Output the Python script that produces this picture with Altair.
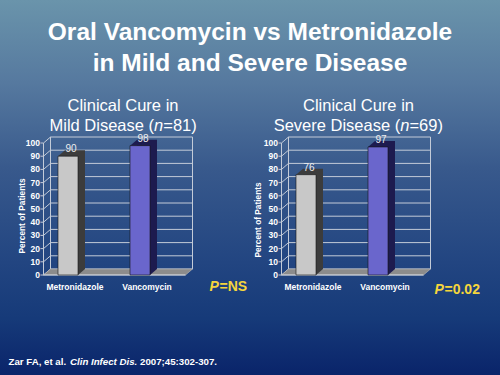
import altair as alt
import pandas as pd

# ---------------- data ----------------
categories = ["Metronidazole", "Vancomycin"]
mild_values = [90, 98]
severe_values = [76, 97]
y_ticks = [0, 10, 20, 30, 40, 50, 60, 70, 80, 90, 100]

title_lines = ["Oral Vancomycin vs Metronidazole", "in Mild and Severe Disease"]
mild_sub = ["Clinical Cure in", "Mild Disease (", "n", "=81)"]
severe_sub = ["Clinical Cure in", "Severe Disease (", "n", "=69)"]
y_title = "Percent of Patients"
p_mild = ["P", "=NS"]
p_severe = ["P", "=0.02"]
cite = ["Zar FA, et al.", "Clin Infect Dis.", "2007;45:302-307."]

# ---------------- styles ----------------
FONT = "Liberation Sans"
W, H = 500, 375
DX, DY = 7, -6
WALL_W = 142
GRID = "#c3cbd8"
YELLOW = "#f5d63c"
FRONT = ["#c8c8c8", "#6a66cc"]
SIDE = ["#3c3c3c", "#1d1b4f"]

yscale = alt.Scale(domain=[0, 100], range=[275, 143])
xscale = alt.Scale(domain=categories, range=[32, 176], paddingInner=0, paddingOuter=0)
one = pd.DataFrame({"k": [0]})
ticks_df = pd.DataFrame({"tick": y_ticks})


def txt(s, x, y, size, weight="normal", style="normal", align="left",
        color="white", angle=0, baseline="alphabetic"):
    return alt.Chart(one).mark_text(
        fontSize=size, fontWeight=weight, fontStyle=style,
        align=align, baseline=baseline, color=color, font=FONT, angle=angle
    ).encode(x=alt.value(x), y=alt.value(y), text=alt.value(s))


def cond(colors):
    return alt.condition(alt.datum.drug == categories[0],
                         alt.value(colors[0]), alt.value(colors[1]))


def panel(values, off, fl, label_x):
    df = pd.DataFrame({"drug": categories, "value": values})
    df["label"] = df["value"].astype(str)
    wl, wr = fl + DX, fl + WALL_W + DX
    fr = fl + WALL_W
    x = alt.X("drug:N", scale=xscale, axis=None)
    y = alt.Y("value:Q", scale=yscale, axis=None)
    yz = alt.Y("zero:Q", scale=yscale, axis=None)
    yt = alt.Y("tick:Q", scale=yscale, axis=None)
    base = alt.Chart(df).transform_calculate(zero="0")
    tk = alt.Chart(ticks_df)
    rng = alt.Chart(one).transform_calculate(lo="0", hi="100")
    ylo = alt.Y("lo:Q", scale=yscale, axis=None)

    grid = tk.mark_rule(color=GRID, strokeWidth=1, yOffset=DY, y2Offset=DY).encode(
        x=alt.value(wl), x2=alt.value(wr), y=yt, y2=alt.Y2("tick:Q"))
    diag = tk.mark_rule(color=GRID, strokeWidth=1, y2Offset=DY).encode(
        x=alt.value(fl), x2=alt.value(wl), y=yt, y2=alt.Y2("tick:Q"))
    fticks = tk.mark_rule(color=GRID, strokeWidth=1).encode(
        x=alt.value(fl - 3), x2=alt.value(fl), y=yt, y2=alt.Y2("tick:Q"))
    wall_l = rng.mark_rule(color=GRID, strokeWidth=1, yOffset=DY, y2Offset=DY).encode(
        x=alt.value(wl), y=ylo, y2=alt.Y2("hi:Q"))
    wall_r = rng.mark_rule(color=GRID, strokeWidth=1, yOffset=DY, y2Offset=DY).encode(
        x=alt.value(wr), y=ylo, y2=alt.Y2("hi:Q"))
    front_l = rng.mark_rule(color=GRID, strokeWidth=1).encode(
        x=alt.value(fl), y=ylo, y2=alt.Y2("hi:Q"))
    floor = rng.mark_point(
        shape=f"M0,0L{DX},{DY}L{WALL_W + DX},{DY}L{WALL_W},0Z", size=4, filled=True,
        fill="#8c8c8c", stroke="#b8b8b8", strokeWidth=0.6, opacity=1).encode(
        x=alt.value(fl), y=ylo)
    floor_line = rng.mark_rule(color="#d8dde6", strokeWidth=1).encode(
        x=alt.value(fl), x2=alt.value(fr), y=ylo, y2=alt.Y2("lo:Q"))

    side = base.mark_bar(size=20, xOffset=DX + off, yOffset=DY, y2Offset=DY,
                         strokeWidth=0).encode(
        x=x, y=y, y2=alt.Y2("zero:Q"), color=cond(SIDE))
    tri_top = base.mark_point(shape=f"M0,0L{DX},{DY}L{DX},0Z", size=4, filled=True,
                              opacity=1, strokeWidth=0, xOffset=-10 + off).encode(
        x=x, y=y, color=cond(SIDE))
    tri_bot = base.mark_point(shape=f"M0,0L0,{DY}L{DX},{DY}Z", size=4, filled=True,
                              opacity=1, strokeWidth=0, xOffset=10 + off).encode(
        x=x, y=yz, color=cond(SIDE))
    front = base.mark_bar(size=20, xOffset=off, stroke="#151515", strokeWidth=0.6).encode(
        x=x, y=y, y2=alt.Y2("zero:Q"), color=cond(FRONT))
    vlabels = base.mark_text(xOffset=3 + off, dy=-7, fontSize=10, color="#eeeeee",
                             font=FONT, baseline="middle").encode(
        x=x, y=y, text="label:N")
    xlabels = base.mark_text(xOffset=7 + off, fontSize=8.5, fontWeight="bold",
                             color="white", baseline="middle", font=FONT).encode(
        x=x, y=alt.value(287), text="drug:N")
    ylabels = tk.mark_text(align="right", baseline="middle", fontSize=8.5,
                           fontWeight="bold", color="white", font=FONT).encode(
        x=alt.value(label_x), y=yt, text="tick:Q")

    return [grid, diag, fticks, wall_l, wall_r, front_l, floor, floor_line,
            side, tri_top, tri_bot, front, vlabels, xlabels, ylabels]


bg = alt.Chart(one).mark_rect(
    color=alt.LinearGradient(
        gradient="linear", x1=0, x2=0, y1=0, y2=1,
        stops=[alt.GradientStop(color="#6a94ab", offset=0),
               alt.GradientStop(color="#56799f", offset=0.22),
               alt.GradientStop(color="#38598c", offset=0.45),
               alt.GradientStop(color="#224581", offset=0.7),
               alt.GradientStop(color="#163a79", offset=0.85),
               alt.GradientStop(color="#0a246a", offset=1)])
).encode(x=alt.value(0), x2=alt.value(W), y=alt.value(0), y2=alt.value(H))

texts = [
    txt(title_lines[0], 250, 39.5, 24.5, weight="bold", align="center"),
    txt(title_lines[1], 250, 70.5, 24.5, weight="bold", align="center"),
    txt(mild_sub[0], 123, 110.5, 16.5, align="center"),
    txt(mild_sub[1], 154, 130.5, 16.5, align="right"),
    txt(mild_sub[2], 154, 130.5, 16.5, style="italic"),
    txt(mild_sub[3], 163.3, 130.5, 16.5),
    txt(severe_sub[0], 358.5, 110.5, 16.5, align="center"),
    txt(severe_sub[1], 400.2, 130.5, 16.5, align="right"),
    txt(severe_sub[2], 400.2, 130.5, 16.5, style="italic"),
    txt(severe_sub[3], 409.4, 130.5, 16.5),
    txt(y_title, 23, 216, 8.3, weight="bold", align="center", angle=270, baseline="middle"),
    txt(y_title, 259, 220, 8.3, weight="bold", align="center", angle=270, baseline="middle"),
    txt(p_mild[0], 209.5, 291, 14, weight="bold", style="italic", color=YELLOW),
    txt(p_mild[1], 219.5, 291, 14, weight="bold", color=YELLOW),
    txt(p_severe[0], 434.5, 294, 14, weight="bold", style="italic", color=YELLOW),
    txt(p_severe[1], 444.5, 294, 14, weight="bold", color=YELLOW),
    txt(cite[0], 8.5, 365, 9.7, weight="bold"),
    txt(cite[1], 70, 365, 9.7, weight="bold", style="italic"),
    txt(cite[2], 140, 365, 9.7, weight="bold"),
]

left = panel(mild_values, 0, 43.5, 40)
right = panel(severe_values, 238, 281.5, 278)

chart = alt.layer(bg, *texts, *left, *right).properties(
    width=W, height=H, padding=0,
    autosize=alt.AutoSizeParams(type="none"),
).configure_view(stroke=None)

chart.save("out.html", embed_options={"renderer": "svg", "actions": False})
